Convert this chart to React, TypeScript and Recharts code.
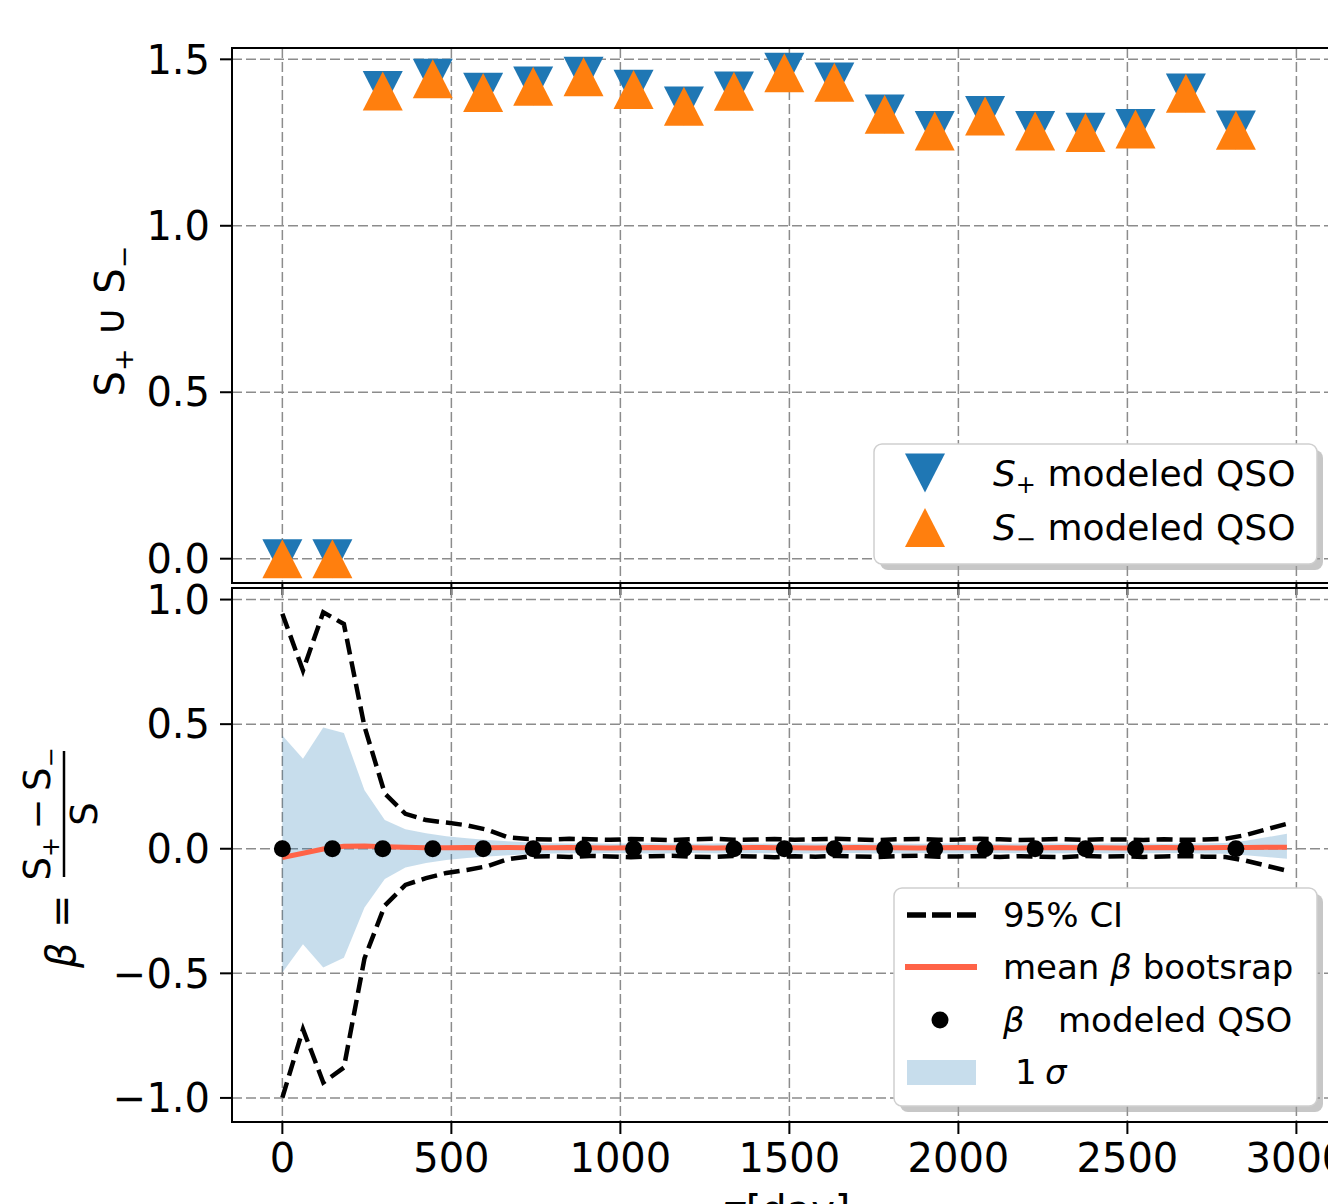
import React from 'react';
import { ComposedChart, Scatter, Line, Area, XAxis, YAxis, CartesianGrid, ReferenceArea } from 'recharts';

// ---------- data ----------
const tauPts = [0, 148, 297, 445, 594, 742, 891, 1039, 1188, 1336, 1485, 1633, 1782, 1930, 2079, 2227, 2376, 2524, 2673, 2821];
const sPlus = [0.0, 0.0, 1.406, 1.443, 1.401, 1.42, 1.449, 1.41, 1.36, 1.405, 1.461, 1.432, 1.336, 1.286, 1.331, 1.286, 1.281, 1.292, 1.399, 1.288];
const sMinus = [0.0, 0.0, 1.405, 1.442, 1.4, 1.419, 1.448, 1.409, 1.359, 1.404, 1.46, 1.431, 1.335, 1.285, 1.33, 1.285, 1.28, 1.291, 1.398, 1.287];
const betaPts = [0, 0, 0, 0, 0, 0, 0, 0, 0, 0, 0, 0, 0, 0, 0, 0, 0, 0, 0, 0];

const tauBoot = [0, 61, 121, 182, 243, 303, 364, 425, 485, 546, 607, 667, 728, 788, 849, 910, 970, 1031, 1092, 1152, 1213, 1274, 1334, 1395, 1456, 1516, 1577, 1638, 1698, 1759, 1820, 1880, 1941, 2001, 2062, 2123, 2183, 2244, 2305, 2365, 2426, 2487, 2547, 2608, 2669, 2729, 2790, 2851, 2911, 2972];
const ciUpper = [0.943, 0.715, 0.949, 0.902, 0.49, 0.222, 0.14, 0.115, 0.105, 0.094, 0.076, 0.046, 0.039,
  0.037, 0.04, 0.038, 0.036, 0.039, 0.037, 0.035, 0.038, 0.04, 0.036,
  0.037, 0.039, 0.036, 0.038, 0.04, 0.037, 0.035, 0.038, 0.039, 0.036,
  0.037, 0.04, 0.038, 0.035, 0.037, 0.039, 0.036, 0.038, 0.037, 0.035,
  0.038, 0.036, 0.037, 0.04,
  0.055, 0.078, 0.1];
const ciLower = [-0.999, -0.724, -0.938, -0.878, -0.44, -0.228, -0.145, -0.118, -0.097, -0.085, -0.07, -0.042, -0.031,
  -0.03, -0.033, -0.029, -0.031, -0.034, -0.03, -0.028, -0.032, -0.033, -0.029,
  -0.031, -0.034, -0.03, -0.032, -0.029, -0.031, -0.033, -0.03, -0.028, -0.032,
  -0.031, -0.029, -0.033, -0.03, -0.032, -0.034, -0.029, -0.031, -0.03, -0.033,
  -0.031, -0.029, -0.032, -0.033,
  -0.048, -0.068, -0.088];
const sigmaUpper = [0.454, 0.361, 0.487, 0.465, 0.235, 0.115, 0.078, 0.062, 0.05, 0.042, 0.035, 0.03, 0.025,
  0.022, 0.021, 0.022, 0.02, 0.021, 0.022, 0.021, 0.02, 0.021, 0.022,
  0.021, 0.02, 0.022, 0.021, 0.021, 0.02, 0.022, 0.021, 0.02, 0.021,
  0.022, 0.021, 0.02, 0.021, 0.022, 0.021, 0.02, 0.021, 0.022, 0.021,
  0.02, 0.021, 0.022, 0.023,
  0.032, 0.046, 0.06];
const sigmaLower = [-0.497, -0.383, -0.477, -0.437, -0.236, -0.121, -0.075, -0.057, -0.045, -0.037, -0.031, -0.026, -0.022,
  -0.019, -0.018, -0.019, -0.017, -0.018, -0.019, -0.018, -0.017, -0.018, -0.019,
  -0.018, -0.017, -0.019, -0.018, -0.018, -0.017, -0.019, -0.018, -0.017, -0.018,
  -0.019, -0.018, -0.017, -0.018, -0.019, -0.018, -0.017, -0.018, -0.019, -0.018,
  -0.017, -0.018, -0.019, -0.02,
  -0.026, -0.033, -0.04];
const meanBoot = [-0.035, -0.018, -0.001, 0.01, 0.011, 0.008, 0.006, 0.004, 0.004, 0.005, 0.004, 0.005, 0.004,
  0.004, 0.005, 0.004, 0.003, 0.004, 0.005, 0.004, 0.004, 0.003, 0.004,
  0.005, 0.004, 0.004, 0.003, 0.004, 0.005, 0.004, 0.004, 0.003, 0.004,
  0.005, 0.004, 0.004, 0.003, 0.004, 0.005, 0.004, 0.004, 0.003, 0.004,
  0.005, 0.004, 0.004, 0.005,
  0.005, 0.006, 0.006];

const xTicks = [0, 500, 1000, 1500, 2000, 2500, 3000];
const topYTicks = [0, 0.5, 1.0, 1.5];
const botYTicks = [-1.0, -0.5, 0.0, 0.5, 1.0];

// ---------- derived tables ----------
const sPlusData = tauPts.map((x, i) => ({ x, y: sPlus[i] }));
const sMinusData = tauPts.map((x, i) => ({ x, y: sMinus[i] }));
const betaData = tauPts.map((x, i) => ({ x, y: betaPts[i] }));
const ciUpData = tauBoot.map((x, i) => ({ x, y: ciUpper[i] }));
const ciLoData = tauBoot.map((x, i) => ({ x, y: ciLower[i] }));
const meanData = tauBoot.map((x, i) => ({ x, y: meanBoot[i] }));
const bandData = tauBoot.map((x, i) => ({ x, band: [sigmaLower[i], sigmaUpper[i]] }));

const X_DOMAIN: [number, number] = [-149, 3129];
const TOP_DOMAIN: [number, number] = [-0.073, 1.534];
const BOT_DOMAIN: [number, number] = [-1.0966, 1.0464];

const FONT = 'DejaVu Sans';
const BLUE = '#1f77b4';
const ORANGE = '#ff7f0e';
const TOMATO = '#ff6347';
const GRID = '#8c8c8c';

const fmt1 = (v: number) => {
  const s = Math.abs(v).toFixed(1);
  return v < 0 ? '\u2212' + s : s;
};

const tickStyle = { fill: '#000', fontSize: 40, fontFamily: FONT };
const tickLineStyle = { stroke: '#000', strokeWidth: 2 };

const H = 20; // half width of triangle markers
const downTri = (p: any) => {
  const { cx, cy } = p;
  if (cx == null || cy == null) return <g />;
  return <path d={`M${cx - H},${cy - 19.5}L${cx + H},${cy - 19.5}L${cx},${cy + 19.5}Z`} fill={BLUE} />;
};
const upTri = (p: any) => {
  const { cx, cy } = p;
  if (cx == null || cy == null) return <g />;
  return <path d={`M${cx},${cy - 19.5}L${cx - H},${cy + 19.5}L${cx + H},${cy + 19.5}Z`} fill={ORANGE} />;
};
const dot = (p: any) => {
  const { cx, cy } = p;
  if (cx == null || cy == null) return <g />;
  return <circle cx={cx} cy={cy} r={8.5} fill="#000" />;
};

const TopYLabel = () => (
  <text transform="translate(124,321) rotate(-90)" textAnchor="middle" fontFamily={FONT} fontSize={40} fill="#000">
    S<tspan fontSize={27} dy={9}>+</tspan>
    <tspan dy={-9}>{' \u222A S'}</tspan>
    <tspan fontSize={27} dy={9}>{'\u2212'}</tspan>
  </text>
);

const BetaYLabel = () => (
  <g transform="translate(64,860) rotate(-90)" fontFamily={FONT} fill="#000">
    <text x={-108} y={11} fontSize={40} fontStyle="italic">β</text>
    <text x={-68} y={11} fontSize={40}>=</text>
    <line x1={-17} x2={109} y1={0} y2={0} stroke="#000" strokeWidth={2.5} />
    <text x={46} y={-14} fontSize={37} textAnchor="middle">
      S<tspan fontSize={24} dy={9}>+</tspan>
      <tspan dy={-9}>{'\u2009\u2212\u2009S'}</tspan>
      <tspan fontSize={24} dy={9}>{'\u2212'}</tspan>
    </text>
    <text x={46} y={33} fontSize={37} textAnchor="middle">S</text>
  </g>
);

const XLabel = () => (
  <text x={786} y={1224} textAnchor="middle" fontFamily={FONT} fontSize={40} fill="#000">
    <tspan fontStyle="italic">τ</tspan>[day]
  </text>
);

const TopChart = () => (
  <ComposedChart width={1360} height={1204} margin={{ top: 48, right: 20, bottom: 0, left: 0 }}>
    <CartesianGrid stroke={GRID} strokeDasharray="10 4" strokeWidth={1.5} />
    <XAxis
      dataKey="x"
      type="number"
      domain={X_DOMAIN}
      ticks={xTicks}
      interval={0}
      height={621}
      axisLine={false}
      tickLine={tickLineStyle}
      tickSize={12}
      tickFormatter={() => ''}
      allowDataOverflow
    />
    <YAxis
      dataKey="y"
      type="number"
      domain={TOP_DOMAIN}
      ticks={topYTicks}
      interval={0}
      width={232}
      axisLine={false}
      tickLine={tickLineStyle}
      tickSize={12}
      tickMargin={10}
      tick={tickStyle}
      tickFormatter={fmt1}
      allowDataOverflow
      label={{ value: 'S+ ∪ S−', content: () => <TopYLabel /> }}
    />
    <ReferenceArea x1={X_DOMAIN[0]} x2={X_DOMAIN[1]} y1={TOP_DOMAIN[0]} y2={TOP_DOMAIN[1]} fill="none" stroke="#000" strokeWidth={2} ifOverflow="visible" />
    <Scatter name="S+ modeled QSO" data={sPlusData} dataKey="y" shape={downTri} isAnimationActive={false} />
    <Scatter name="S− modeled QSO" data={sMinusData} dataKey="y" shape={upTri} isAnimationActive={false} />
  </ComposedChart>
);

const BottomChart = () => (
  <ComposedChart width={1360} height={1204} margin={{ top: 588, right: 20, bottom: 0, left: 0 }}>
    <CartesianGrid stroke={GRID} strokeDasharray="10 4" strokeWidth={1.5} />
    <XAxis
      dataKey="x"
      type="number"
      domain={X_DOMAIN}
      ticks={xTicks}
      interval={0}
      height={82}
      axisLine={false}
      tickLine={tickLineStyle}
      tickSize={12}
      tickMargin={10}
      tick={tickStyle}
      allowDataOverflow
      label={{ value: 'τ[day]', content: () => <XLabel /> }}
    />
    <YAxis
      type="number"
      domain={BOT_DOMAIN}
      ticks={botYTicks}
      interval={0}
      width={232}
      axisLine={false}
      tickLine={tickLineStyle}
      tickSize={12}
      tickMargin={10}
      tick={tickStyle}
      tickFormatter={fmt1}
      allowDataOverflow
      label={{ value: 'β', content: () => <BetaYLabel /> }}
    />
    <ReferenceArea x1={X_DOMAIN[0]} x2={X_DOMAIN[1]} y1={BOT_DOMAIN[0]} y2={BOT_DOMAIN[1]} fill="none" stroke="#000" strokeWidth={2} ifOverflow="visible" />
    <Area name="1 σ" data={bandData} dataKey="band" type="linear" fill={BLUE} fillOpacity={0.25} stroke="none" dot={false} activeDot={false} isAnimationActive={false} />
    <Line name="95% CI" data={ciUpData} dataKey="y" type="linear" stroke="#000" strokeWidth={4.5} strokeDasharray="16 7" dot={false} activeDot={false} isAnimationActive={false} />
    <Line name="95% CI low" data={ciLoData} dataKey="y" type="linear" stroke="#000" strokeWidth={4.5} strokeDasharray="16 7" dot={false} activeDot={false} isAnimationActive={false} />
    <Line name="mean β bootsrap" data={meanData} dataKey="y" type="linear" stroke={TOMATO} strokeWidth={5} dot={false} activeDot={false} isAnimationActive={false} />
    <Scatter name="β modeled QSO" data={betaData} dataKey="y" shape={dot} isAnimationActive={false} />
  </ComposedChart>
);

const LegendBox = ({ x, y, w, h }: { x: number; y: number; w: number; h: number }) => (
  <g>
    <rect x={x + 6} y={y + 6} width={w} height={h} rx={8} fill="#999" fillOpacity={0.55} />
    <rect x={x} y={y} width={w} height={h} rx={8} fill="#fff" stroke="#cfcfcf" strokeWidth={1.5} />
  </g>
);

const Legends = () => (
  <svg width={1328} height={1204} style={{ position: 'absolute', left: 0, top: 0 }} fontFamily={FONT}>
    {/* top legend */}
    <LegendBox x={874} y={444} w={443} h={120} />
    <path d="M905,453.5L945,453.5L925,492.5Z" fill={BLUE} />
    <text x={993} y={486} fontSize={36} fill="#000">
      <tspan fontStyle="italic">S</tspan>
      <tspan fontSize={24} dy={7}>+</tspan>
      <tspan dy={-7}> modeled QSO</tspan>
    </text>
    <path d="M925,508L905,547L945,547Z" fill={ORANGE} />
    <text x={993} y={540} fontSize={36} fill="#000">
      <tspan fontStyle="italic">S</tspan>
      <tspan fontSize={24} dy={7}>{'\u2212'}</tspan>
      <tspan dy={-7}> modeled QSO</tspan>
    </text>

    {/* bottom legend */}
    <LegendBox x={894} y={888} w={423} h={218} />
    <line x1={907} x2={977} y1={915} y2={915} stroke="#000" strokeWidth={5.5} strokeDasharray="19 6" />
    <text x={1003} y={927} fontSize={34} fill="#000">95% CI</text>
    <line x1={905} x2={977} y1={967} y2={967} stroke={TOMATO} strokeWidth={6} />
    <text x={1003} y={979} fontSize={34} fill="#000">
      mean <tspan fontStyle="italic">β</tspan> bootsrap
    </text>
    <circle cx={940} cy={1020} r={8.5} fill="#000" />
    <text x={1003} y={1032} fontSize={34} fill="#000" fontStyle="italic">β</text>
    <text x={1058} y={1032} fontSize={34} fill="#000">modeled QSO</text>
    <rect x={907} y={1060} width={69} height={25} fill={BLUE} fillOpacity={0.25} />
    <text x={1015} y={1084} fontSize={34} fill="#000">1</text>
    <text x={1045} y={1084} fontSize={34} fill="#000" fontStyle="italic">σ</text>
  </svg>
);

export default function App() {
  return (
    <div style={{ position: 'absolute', left: 0, top: 0, width: 1328, height: 1204, overflow: 'hidden', background: '#fff' }}>
      <div style={{ position: 'absolute', left: 0, top: 0 }}>
        <TopChart />
      </div>
      <div style={{ position: 'absolute', left: 0, top: 0 }}>
        <BottomChart />
      </div>
      <Legends />
    </div>
  );
}
